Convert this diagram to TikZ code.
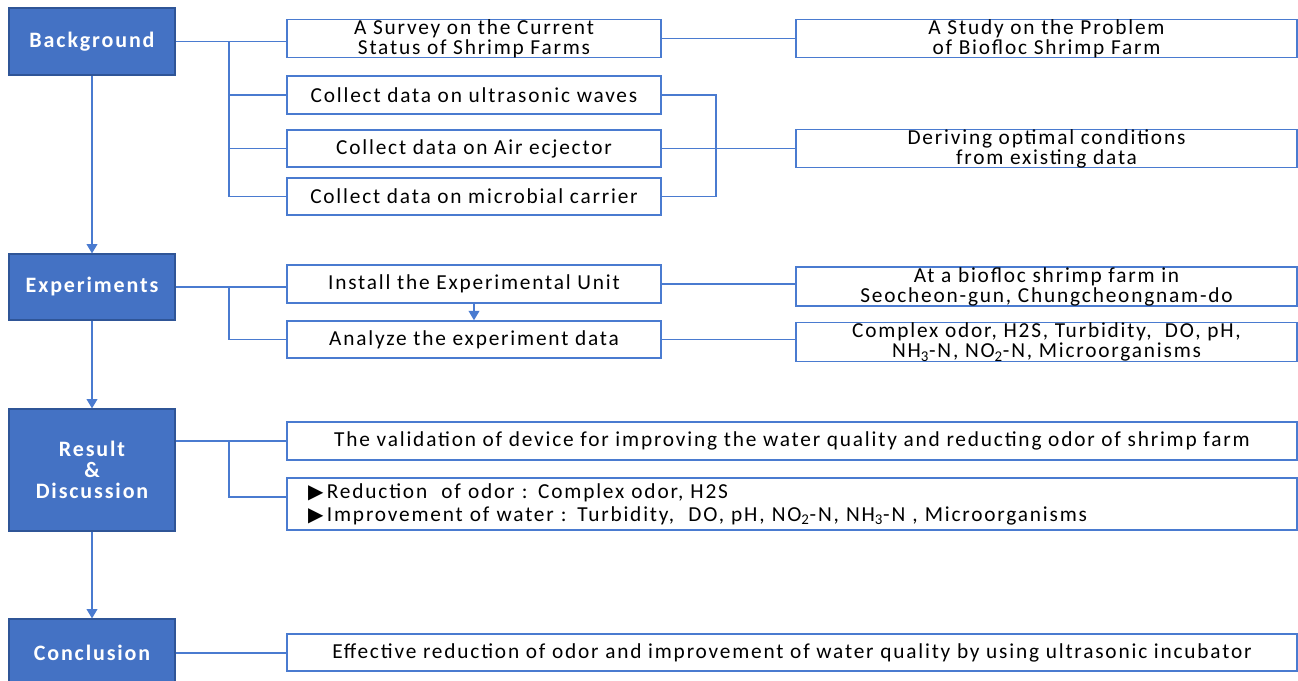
\documentclass[tikz,border=0pt]{standalone}
\usepackage{fontspec}
\setmainfont{Carlito}[LetterSpace=8.5]
\newfontfamily\dejavu{DejaVu Sans}
\usetikzlibrary{arrows.meta}
\definecolor{blu}{HTML}{4472C4}
\definecolor{bluedge}{HTML}{2F5597}
\definecolor{lnc}{HTML}{4A7BD0}
\newcommand{\tri}{{\dejavu\fontsize{15}{17}\selectfont ▶}\,}
\begin{document}
\begin{tikzpicture}[x=0.75pt,y=-0.75pt,
  stage/.style={draw=bluedge, fill=blu, text=white, font=\fontsize{16.5}{15.75}\selectfont\bfseries, align=center, inner sep=0pt, line width=0.8pt, minimum width=166*0.75pt},
  wbox/.style={draw=lnc, fill=white, text=black, font=\fontsize{16}{15}\selectfont, align=center, inner sep=0pt, line width=1.1pt},
  lcol/.style={wbox, minimum width=374*0.75pt},
  rcol/.style={wbox, minimum width=501*0.75pt},
  wide/.style={wbox, minimum width=1010*0.75pt},
  conn/.style={draw=lnc, line width=1.1pt},
  arr/.style={conn, -{Triangle[width=8pt,length=7pt]}}
]
\useasboundingbox (0,0) rectangle (1298,681);

% stages
\node[stage, minimum height=67*0.75pt] (bg) at (92,41.5) {Background};
\node[stage, minimum height=66*0.75pt] (ex) at (92,287) {Experiments};
\node[stage, minimum height=122*0.75pt] (rd) at (92,470) {Result\\\&\\Discussion};
\node[stage, minimum height=68*0.75pt] (co) at (92,653) {Conclusion};

% left column
\node[lcol, minimum height=37*0.75pt] (sv) at (474,38.5) {A Survey on the Current\\Status of Shrimp Farms};
\node[lcol, minimum height=38*0.75pt] (uw) at (474,95) {Collect data on ultrasonic waves};
\node[lcol, minimum height=37*0.75pt] (ae) at (474,148.5) {Collect data on Air ecjector};
\node[lcol, minimum height=37*0.75pt] (mc) at (474,196.5) {Collect data on microbial carrier};
\node[lcol, minimum height=38*0.75pt] (in) at (474,284) {Install the Experimental Unit};
\node[lcol, minimum height=37*0.75pt] (an) at (474,339.5) {Analyze the experiment data};

% right column
\node[rcol, minimum height=37*0.75pt] (st) at (1046.5,38.5) {A Study on the Problem\\of Biofloc Shrimp Farm};
\node[rcol, minimum height=37*0.75pt] (dv) at (1046.5,148.5) {Deriving optimal conditions\\from existing data};
\node[rcol, minimum height=39*0.75pt] (bf) at (1046.5,286.5) {At a biofloc shrimp farm in\\Seocheon-gun, Chungcheongnam-do};
\node[rcol, minimum height=38*0.75pt] (cx) at (1046.5,342) {Complex odor, H2S, Turbidity,\ \ DO, pH,\\NH\textsubscript{3}-N, NO\textsubscript{2}-N, Microorganisms};

% wide boxes
\node[wide, minimum height=38*0.75pt] (va) at (792,441) {The validation of device for improving the water quality and reducting odor of shrimp farm};
\node[wbox, text width=968*0.75pt, inner xsep=21*0.75pt, minimum height=52*0.75pt, align=left, font=\fontsize{16}{17.25}\selectfont] (bl) at (792,504)
  {\tri Reduction\ \ of odor : Complex odor, H2S\\
   \tri Improvement of water : Turbidity,\ \ DO, pH, NO\textsubscript{2}-N, NH\textsubscript{3}-N , Microorganisms};
\node[wide, minimum height=37*0.75pt] (ef) at (792,652.5) {Effective reduction of odor and improvement of water quality by using ultrasonic incubator};

% helper coordinates
\coordinate (bx) at (229,0);
\coordinate (rx) at (716,0);

% Background connectors
\draw[conn] (bg.east) -- (bg.east -| sv.west);
\draw[conn] (bg.east -| bx) -- (mc.west -| bx) -- (mc.west);
\draw[conn] (uw.west -| bx) -- (uw.west);
\draw[conn] (ae.west -| bx) -- (ae.west);
\draw[conn] (sv.east) -- (st.west);
\draw[conn] (uw.east) -- (uw.east -| rx) -- (mc.east -| rx) -- (mc.east);
\draw[conn] (ae.east) -- (dv.west);

% Experiments connectors
\draw[conn] (ex.east) -- (ex.east -| in.west);
\draw[conn] (ex.east -| bx) -- (an.west -| bx) -- (an.west);
\draw[arr] (in.south) -- (an.north);
\draw[conn] (in.east) -- (in.east -| bf.west);
\draw[conn] (an.east) -- (an.east -| cx.west);

% Result connectors
\draw[conn] (rd.east |- va.west) -- (va.west);
\draw[conn] (va.west -| bx) -- ([yshift=5.25pt]bl.west -| bx) -- ([yshift=5.25pt]bl.west);

% Conclusion
\draw[conn] (co.east) -- (co.east -| ef.west);

% vertical flow
\draw[arr] (bg.south) -- (ex.north);
\draw[arr] (ex.south) -- (rd.north);
\draw[arr] (rd.south) -- (co.north);
\end{tikzpicture}
\end{document}
